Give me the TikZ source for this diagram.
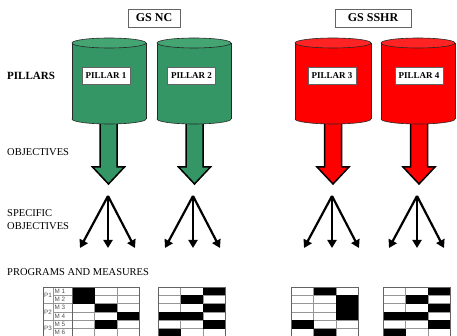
\documentclass[tikz,border=0pt]{standalone}
\usepackage{fontspec}
\setmainfont{Liberation Serif}
\setsansfont{Liberation Sans}
\usetikzlibrary{arrows.meta}
\definecolor{pgreen}{RGB}{51,150,100}
\definecolor{pgreentop}{RGB}{68,164,114}
\definecolor{pred}{RGB}{255,0,0}
\definecolor{predtop}{RGB}{255,35,35}
\definecolor{edgecol}{RGB}{40,40,40}
\definecolor{gridcol}{RGB}{150,150,150}
\definecolor{bordcol}{RGB}{100,100,100}
\definecolor{tabtext}{RGB}{80,80,80}
\newcommand\mycyl[4]{%
  \filldraw[fill=#3,draw=edgecol,line width=0.6pt] ({(#1+#2)/2},119) ellipse [x radius={(#2-#1)/2}, y radius=5];
  \fill[#3] (#1,43) rectangle (#2,119);
  \draw[edgecol,line width=0.6pt] (#1,43) -- (#1,119) (#2,43) -- (#2,119);
  \filldraw[fill=#4,draw=edgecol,line width=0.6pt] ({(#1+#2)/2},43) ellipse [x radius={(#2-#1)/2}, y radius=5];
}
\newcommand\myblock[2]{%
  \filldraw[fill=#2,draw=black,line width=1.5pt,line join=miter]
    ({#1-8.5},112) -- ({#1-8.5},167) -- ({#1-16},167) -- (#1,184) -- ({#1+16},167) -- ({#1+8.5},167) -- ({#1+8.5},112);
}
\newcommand\mytable[2]{%
  \foreach \k in {1,...,6} \draw[gridcol,line width=0.5pt] (#1,{287+\k*8.33}) -- ++(67.5,0);
  \foreach \k in {1,2} \draw[gridcol,line width=0.5pt] ({#1+\k*22.5},287) -- ++(0,60);
  \foreach \r/\c in {#2} \fill[black] ({#1+(\c-1)*22.5},{287+(\r-1)*8.33}) rectangle ++(22.5,8.33);
  \draw[bordcol,line width=0.8pt] (#1,345) -- (#1,287) -- ({#1+67.5},287) -- ({#1+67.5},345);
}
\begin{document}
\begin{tikzpicture}[x=1pt,y=-1pt,
  gsbox/.style={draw=bordcol,line width=0.6pt,fill=white,minimum height=18pt,inner sep=0pt,
    font=\fontsize{12}{14}\selectfont\bfseries},
  pbox/.style={draw=bordcol,line width=0.6pt,fill=white,minimum width=48pt,minimum height=17pt,inner sep=0pt,
    font=\fontsize{9}{10}\selectfont\bfseries},
  rowlab/.style={anchor=west,inner sep=0pt,align=left},
  prong/.style={line width=2.2pt,-{Triangle[length=8pt,width=9pt]}},
  tlab/.style={inner sep=0pt,text=tabtext,font=\sffamily\fontsize{6.3}{7}\selectfont}]
\useasboundingbox (0,0) rectangle (457,336);
\clip (0,0) rectangle (457,336);

% group headers
\node[gsbox,minimum width=52pt] (gsnc) at (154,18) {GS NC};
\node[gsbox,minimum width=76pt] (gssshr) at (373,18) {GS SSHR};

% row labels
\node[rowlab,font=\fontsize{11}{13}\selectfont\bfseries] (lpil) at (7,76) {PILLARS};
\node[rowlab,font=\fontsize{10.5}{13}\selectfont] (lobj) at (7,152) {OBJECTIVES};
\node[rowlab,font=\fontsize{10.5}{13}\selectfont] (lspec) at (7,219.5) {SPECIFIC\\OBJECTIVES};
\node[rowlab,font=\fontsize{10.5}{13}\selectfont] (lprog) at (7,272) {PROGRAMS AND MEASURES};

% block arrows (drawn first, cylinders overlap their tops)
\myblock{108.5}{pgreen}
\myblock{194.5}{pgreen}
\myblock{333}{pred}
\myblock{419}{pred}

% cylinders
\mycyl{72}{146}{pgreen}{pgreentop}
\mycyl{157}{231}{pgreen}{pgreentop}
\mycyl{295}{371}{pred}{predtop}
\mycyl{381}{455}{pred}{predtop}

% pillar labels
\node[pbox] (p1) at (106,75.5) {PILLAR 1};
\node[pbox] (p2) at (191.5,75.5) {PILLAR 2};
\node[pbox] (p3) at (332,75.5) {PILLAR 3};
\node[pbox] (p4) at (419,75.5) {PILLAR 4};

% specific objective arrows
\foreach \ax [count=\i] in {108,193,332,417} {
  \coordinate (ap\i) at (\ax,196);
  \coordinate (l\i) at (\ax-28,248);
  \coordinate (m\i) at (\ax,248);
  \coordinate (r\i) at (\ax+27,248);
  \draw[prong] (ap\i) -- (l\i);
  \draw[prong] (ap\i) -- (m\i);
  \draw[prong] (ap\i) -- (r\i);
}

% tables
\mytable{72}{1/1,2/1,3/2,4/3,5/2}
\mytable{158}{1/3,2/2,3/3,4/1,4/2,5/3,6/1}
\mytable{291}{1/2,2/3,3/3,4/3,5/1,6/2}
\mytable{383}{1/3,2/2,3/3,4/1,4/2,5/3,6/1}

% table 1 label columns
\draw[gridcol,line width=0.5pt] (53,287) -- (53,345);
\foreach \k in {1,...,6} \draw[gridcol,line width=0.5pt] (53,{287+\k*8.33}) -- (72,{287+\k*8.33});
\foreach \k in {2,4,6} \draw[gridcol,line width=0.5pt] (43,{287+\k*8.33}) -- (53,{287+\k*8.33});
\draw[bordcol,line width=0.8pt] (43,345) -- (43,287) -- (72,287);
\node[tlab] (tp1) at (48,{287+8.33}) {P1};
\node[tlab] (tp2) at (48,{287+3*8.33}) {P2};
\node[tlab] (tp3) at (48,{287+5*8.33}) {P3};
\foreach \k in {1,...,6} \node[tlab,anchor=west] (tm\k) at (54.5,{287+(\k-0.5)*8.33}) {M \k};
\end{tikzpicture}
\end{document}
